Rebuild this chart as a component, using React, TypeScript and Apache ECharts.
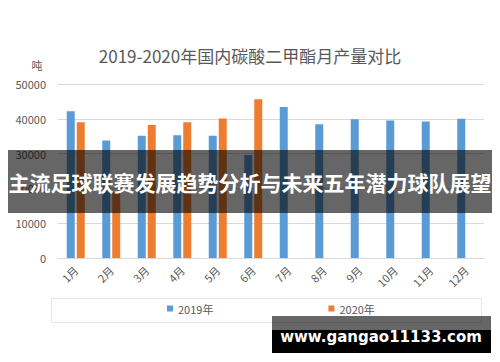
import React, { useEffect, useRef } from "react";
import * as echarts from "echarts";

const months = ["1月", "2月", "3月", "4月", "5月", "6月", "7月", "8月", "9月", "10月", "11月", "12月"];
const values2019 = [42200, 33800, 35100, 35300, 35100, 29600, 43400, 38400, 39900, 39500, 39200, 40000];
const values2020: (number | null)[] = [39000, 19000, 38200, 39000, 40100, 45600, null, null, null, null, null, null];
const seriesNames = ["2019年", "2020年"];
const yTicks = { min: 0, max: 50000, interval: 10000 };

const titleText = "2019-2020年国内碳酸二甲酯月产量对比";
const unitText = "吨";
const bannerText = "主流足球联赛发展趋势分析与未来五年潜力球队展望";
const watermarkText = "www.gangao11133.com";

export default function App() {
  const ref = useRef<HTMLDivElement>(null);
  useEffect(() => {
    if (!ref.current) return;
    const chart = echarts.init(ref.current, null, { renderer: "svg" });
    const gray = "#595959";
    const font = "'Noto Sans CJK SC', 'Noto Sans', sans-serif";
    chart.setOption({
      animation: false,
      backgroundColor: "#ffffff",
      textStyle: { fontFamily: font },
      title: {
        text: titleText,
        left: "center",
        top: 42,
        textStyle: { fontSize: 17, fontWeight: "normal", color: gray, fontFamily: font },
      },
      legend: {
        data: seriesNames,
        left: 162,
        top: 298,
        itemWidth: 6,
        itemHeight: 6,
        itemGap: 115,
        icon: "rect",
        textStyle: { fontSize: 11, color: gray, fontFamily: font },
      },
      grid: { left: 58, right: 16, top: 84, bottom: 104 },
      xAxis: {
        type: "category",
        data: months,
        axisLine: { show: true, lineStyle: { color: "#d9d9d9" } },
        axisTick: { show: false },
        axisLabel: { rotate: 45, fontSize: 11, color: gray, margin: 10, fontFamily: font },
      },
      yAxis: {
        type: "value",
        min: yTicks.min,
        max: yTicks.max,
        interval: yTicks.interval,
        axisLine: { show: false },
        axisTick: { show: false },
        splitLine: { lineStyle: { color: "#d9d9d9" } },
        axisLabel: {
          fontSize: 11,
          color: gray,
          margin: 12,
          fontFamily: font,
          formatter: (v: number) => String(v),
        },
      },
      series: [
        {
          name: seriesNames[0],
          type: "bar",
          data: values2019,
          barWidth: 8,
          barGap: "25%",
          itemStyle: { color: "#5B9BD5" },
        },
        {
          name: seriesNames[1],
          type: "bar",
          data: values2020,
          barWidth: 8,
          barGap: "25%",
          itemStyle: { color: "#ED7D31" },
        },
      ],
      graphic: [
        {
          type: "text",
          x: 37,
          y: 65,
          z: 50,
          style: { text: unitText, fontSize: 11, fill: gray, align: "center", verticalAlign: "middle", fontFamily: font },
        },
        {
          type: "rect",
          z: 40,
          shape: { x: 51.5, y: 298.5, width: 430, height: 24 },
          style: { fill: "none", stroke: "#e6e6e6", lineWidth: 1 },
        },
        {
          type: "rect",
          z: 100,
          shape: { x: 8, y: 150, width: 484, height: 63 },
          style: { fill: "rgba(0,0,0,0.6)" },
        },
        {
          type: "text",
          z: 101,
          x: 250,
          y: 182,
          style: {
            text: bannerText,
            fontSize: 21,
            fontWeight: "bold",
            fill: "#ffffff",
            align: "center",
            verticalAlign: "middle",
            fontFamily: "'Noto Sans CJK SC', sans-serif",
          },
        },
        {
          type: "rect",
          z: 100,
          shape: { x: 272, y: 316, width: 219, height: 14 },
          style: { fill: "rgba(0,0,0,0.6)" },
        },
        {
          type: "rect",
          z: 100,
          shape: { x: 272, y: 330, width: 219, height: 23 },
          style: { fill: "#000000" },
        },
        {
          type: "text",
          z: 101,
          x: 381,
          y: 337,
          style: {
            text: watermarkText,
            fontSize: 15,
            fontWeight: "bold",
            fill: "#ffffff",
            align: "center",
            verticalAlign: "middle",
            fontFamily: "'DejaVu Sans', sans-serif",
          },
        },
      ],
    });
    return () => chart.dispose();
  }, []);
  return (
    <div
      ref={ref}
      style={{ position: "fixed", left: 0, top: 0, width: 500, height: 362 }}
    />
  );
}
